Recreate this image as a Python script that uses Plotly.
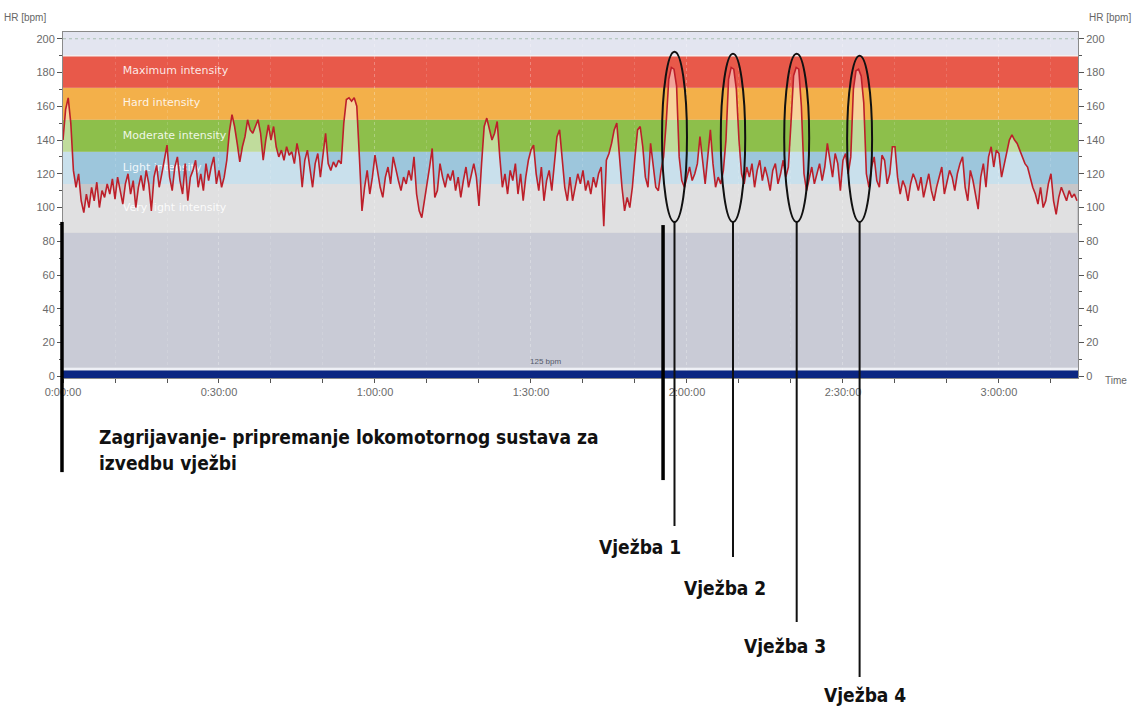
import plotly.graph_objects as go

# ---------------- data ----------------
SAMPLE_MIN = 0.5  # one reading every 30 s
hr_bpm = [
    # 0-10 min
    140, 158, 165, 150, 122, 112, 120, 104, 97, 108, 100, 112, 104, 115, 100, 110, 106, 114, 108, 117,
    # 10-20
    105, 118, 110, 102, 114, 120, 108, 116, 100, 112, 119, 110, 122, 114, 98, 118, 125, 112, 120, 128,
    # 20-30
    137, 118, 110, 124, 130, 116, 108, 126, 104, 118, 122, 128, 112, 120, 110, 126, 116, 124, 130, 114,
    # 30-40
    122, 112, 118, 128, 145, 155, 148, 138, 127, 136, 142, 152, 146, 144, 148, 152, 144, 128, 140, 149,
    # 40-50
    140, 148, 136, 130, 134, 128, 136, 131, 133, 126, 138, 130, 112, 128, 134, 124, 112, 126, 132, 118,
    # 50-60
    130, 144, 126, 122, 127, 124, 128, 126, 150, 164, 165, 163, 165, 160, 130, 98, 112, 122, 108, 118,
    # 60-70
    131, 120, 112, 106, 118, 124, 114, 130, 122, 116, 110, 118, 114, 122, 116, 130, 108, 98, 94, 104,
    # 70-80
    112, 124, 135, 106, 110, 126, 118, 112, 120, 116, 122, 110, 118, 106, 116, 124, 112, 120, 126, 118,
    # 80-90
    101, 126, 148, 153, 146, 140, 144, 151, 130, 112, 120, 108, 122, 116, 126, 108, 120, 104, 118, 128,
    # 90-100
    134, 137, 120, 110, 124, 104, 116, 122, 110, 128, 142, 146, 130, 112, 104, 118, 104, 112, 120, 114,
    # 100-110
    122, 110, 116, 108, 118, 112, 120, 124, 89, 128, 132, 138, 146, 150, 130, 112, 98, 106, 100, 112,
    # 110-120
    130, 146, 148, 136, 118, 112, 138, 124, 112, 110, 122, 130, 150, 176, 183, 182, 172, 130, 116, 112,
    # 120-130
    118, 124, 116, 120, 126, 142, 128, 114, 130, 146, 126, 112, 118, 114, 122, 140, 176, 183, 182, 170,
    # 130-140
    140, 120, 114, 124, 118, 126, 112, 122, 128, 116, 124, 118, 110, 122, 126, 114, 120, 128, 118, 124,
    # 140-150
    150, 178, 183, 182, 160, 120, 110, 118, 124, 114, 120, 126, 116, 124, 138, 128, 118, 132, 126, 110,
    # 150-160
    128, 132, 120, 130, 170, 181, 182, 178, 162, 120, 112, 124, 130, 116, 112, 131, 128, 114, 120, 136,
    # 160-170
    136, 118, 108, 116, 112, 104, 114, 120, 116, 110, 118, 106, 114, 120, 110, 104, 112, 118, 124, 108,
    # 170-180
    116, 122, 118, 110, 120, 126, 130, 112, 104, 122, 116, 108, 99, 118, 126, 112, 130, 136, 124, 134,
    # 180-190
    132, 118, 126, 134, 140, 143, 140, 138, 134, 130, 126, 124, 118, 112, 108, 102, 112, 100, 104, 114,
    # 190-195
    120, 104, 96, 106, 112, 108, 104, 110, 106, 108, 104,
]
time_min = [i * SAMPLE_MIN for i in range(len(hr_bpm))]

zone_names = ["Very light intensity", "Light intensity", "Moderate intensity",
              "Hard intensity", "Maximum intensity"]
zone_low = [85, 114, 133, 152, 171]
zone_high = [114, 133, 152, 171, 190]
zone_colors = ["#c6c6c8", "#9dc6dc", "#8dbf4b", "#f3b04a", "#e8594a"]

tick_minutes = [0, 30, 60, 90, 120, 150, 180]
tick_labels = ["0:00:00", "0:30:00", "1:00:00", "1:30:00", "2:00:00", "2:30:00", "3:00:00"]
hr_ticks = [0, 20, 40, 60, 80, 100, 120, 140, 160, 180, 200]

avg_label = "125 bpm"
avg_label_pos = (92.7, 8.6)

# exercise peaks marked by ellipses: (start min, end min)
exercise_names = ["Vježba 1", "Vježba 2", "Vježba 3", "Vježba 4"]
exercise_start = [115.2, 126.5, 138.7, 150.8]
exercise_end = [120.0, 131.2, 143.5, 155.6]
ellipse_low = 91.4
ellipse_high = [192.3, 191.1, 191.1, 189.9]

warmup_end_min = 115.4
warmup_text = ["Zagrijavanje- pripremanje lokomotornog sustava za", "izvedbu vježbi"]

X_RANGE = [0, 195.2]
Y_RANGE = [-1, 204]


def xp(t):
    return (t - X_RANGE[0]) / (X_RANGE[1] - X_RANGE[0])


def yp(v):
    return (v - Y_RANGE[0]) / (Y_RANGE[1] - Y_RANGE[0])


# ---------------- figure ----------------
fig = go.Figure()

# zone labels (drawn first so the HR curve covers them)
fig.add_trace(go.Scatter(
    x=[11.5] * len(zone_names),
    y=[(lo + hi) / 2 for lo, hi in zip(zone_low, zone_high)],
    mode="text", text=zone_names, textposition="middle right",
    textfont=dict(family="DejaVu Sans", size=11, color="rgba(255,255,255,0.88)"),
    hoverinfo="skip", showlegend=False,
))

# baseline for the area under the HR curve
fig.add_trace(go.Scatter(
    x=time_min, y=[zone_low[0]] * len(time_min), mode="lines",
    line=dict(width=0, color="rgba(0,0,0,0)"), hoverinfo="skip", showlegend=False,
))

fig.add_trace(go.Scatter(
    x=time_min, y=hr_bpm, mode="lines", fill="tonexty",
    fillcolor="rgba(255,255,255,0.45)",
    line=dict(color="#bd1f2a", width=1.6), showlegend=False, name="HR",
))

# invisible trace for right axis
fig.add_trace(go.Scatter(x=[X_RANGE[0]], y=[0], yaxis="y2", mode="markers",
                         marker=dict(opacity=0), hoverinfo="skip", showlegend=False))

shapes = []
# background areas
shapes.append(dict(type="rect", xref="x", yref="y", x0=X_RANGE[0], x1=X_RANGE[1],
                   y0=zone_high[-1], y1=Y_RANGE[1], fillcolor="#e3e5f0", line_width=0, layer="below"))
shapes.append(dict(type="rect", xref="x", yref="y", x0=X_RANGE[0], x1=X_RANGE[1],
                   y0=5, y1=zone_low[0], fillcolor="#c9cbd6", line_width=0, layer="below"))
shapes.append(dict(type="rect", xref="x", yref="y", x0=X_RANGE[0], x1=X_RANGE[1],
                   y0=3.5, y1=5, fillcolor="#eef0f6", line_width=0, layer="below"))
shapes.append(dict(type="rect", xref="x", yref="y", x0=X_RANGE[0], x1=X_RANGE[1],
                   y0=Y_RANGE[0], y1=3.5, fillcolor="#0b2682", line_width=0, layer="between"))
for lo, hi, col in zip(zone_low, zone_high, zone_colors):
    shapes.append(dict(type="rect", xref="x", yref="y", x0=X_RANGE[0], x1=X_RANGE[1],
                       y0=lo, y1=hi, fillcolor=col, line_width=0, layer="below"))
# dotted 200 line
shapes.append(dict(type="line", xref="x", yref="y", x0=X_RANGE[0], x1=X_RANGE[1],
                   y0=200, y1=200, line=dict(color="#a9bfb2", width=1, dash="dot"), layer="between"))
# thin line at top of maximum zone
shapes.append(dict(type="line", xref="x", yref="y", x0=X_RANGE[0], x1=X_RANGE[1],
                   y0=zone_high[-1], y1=zone_high[-1], line=dict(color="#f4efef", width=1.5), layer="between"))

# ellipses around exercise peaks
for s, e, top in zip(exercise_start, exercise_end, ellipse_high):
    shapes.append(dict(type="circle", xref="x", yref="y", x0=s, x1=e, y0=ellipse_low, y1=top,
                       line=dict(color="#111111", width=2), layer="above"))

# connector lines to the exercise labels
line_end_paper = [-0.428, -0.517, -0.705, -0.864]
for s, e, yend in zip(exercise_start, exercise_end, line_end_paper):
    xc = xp((s + e) / 2)
    shapes.append(dict(type="line", xref="paper", yref="paper", x0=xc, x1=xc,
                       y0=yp(ellipse_low), y1=yend, line=dict(color="#111111", width=2)))

# warm-up bracket lines
shapes.append(dict(type="line", xref="paper", yref="paper", x0=xp(0) - 0.001, x1=xp(0) - 0.001,
                   y0=0.451, y1=-0.272, line=dict(color="#000000", width=3.5)))
shapes.append(dict(type="line", xref="paper", yref="paper", x0=xp(warmup_end_min), x1=xp(warmup_end_min),
                   y0=0.442, y1=-0.295, line=dict(color="#000000", width=3.5)))

annotations = []
bold_font = dict(family="DejaVu Sans Condensed, DejaVu Sans", size=19, color="#111111", weight="bold")
annotations.append(dict(xref="paper", yref="paper", x=0.0335, y=-0.1705, xanchor="left", yanchor="middle",
                        text=warmup_text[0], showarrow=False, font=bold_font))
annotations.append(dict(xref="paper", yref="paper", x=0.0335, y=-0.2457, xanchor="left", yanchor="middle",
                        text=warmup_text[1], showarrow=False, font=bold_font))
label_pos = [(0.568, -0.488), (0.6527, -0.607), (0.7118, -0.775), (0.7897, -0.916)]
for name, (lx, ly) in zip(exercise_names, label_pos):
    annotations.append(dict(xref="paper", yref="paper", x=lx, y=ly, xanchor="center", yanchor="middle",
                            text=name, showarrow=False, font=bold_font))

axis_font = dict(family="Liberation Sans", size=10, color="#666666")
annotations.append(dict(xref="paper", yref="paper", x=-0.0374, y=1.0405, text="HR [bpm]",
                        showarrow=False, font=axis_font, xanchor="center", yanchor="middle"))
annotations.append(dict(xref="paper", yref="paper", x=1.0315, y=1.0405, text="HR [bpm]",
                        showarrow=False, font=axis_font, xanchor="center", yanchor="middle"))
annotations.append(dict(xref="paper", yref="paper", x=1.0374, y=-0.0058, text="Time",
                        showarrow=False, font=axis_font, xanchor="center", yanchor="middle"))
annotations.append(dict(xref="x", yref="y", x=avg_label_pos[0], y=avg_label_pos[1], text=avg_label,
                        showarrow=False, font=dict(family="Liberation Sans", size=8, color="#555a6a")))

tick_font = dict(family="Liberation Sans", size=11, color="#6a6a6a")

fig.update_layout(
    width=1137, height=706,
    margin=dict(l=63, r=59, t=32, b=328),
    paper_bgcolor="white", plot_bgcolor="#d9d9db",
    showlegend=False,
    shapes=shapes, annotations=annotations,
    xaxis=dict(range=X_RANGE, tickvals=tick_minutes, ticktext=tick_labels,
               ticks="outside", ticklen=4, tickcolor="#555555", tickfont=tick_font,
               showgrid=True, gridcolor="rgba(255,255,255,0.16)", griddash="dot",
               minor=dict(dtick=10, tick0=0, ticks="outside", ticklen=4, tickcolor="#555555",
                          showgrid=True, gridcolor="rgba(255,255,255,0.14)", griddash="dot"),
               showline=True, linecolor="#8a8a8a", mirror=True, zeroline=False, fixedrange=True),
    yaxis=dict(range=Y_RANGE, tickvals=hr_ticks, ticks="outside", ticklen=5, tickcolor="#555555",
               tickfont=tick_font, showgrid=False, zeroline=False,
               minor=dict(dtick=10, tick0=0, ticks="outside", ticklen=3, tickcolor="#555555"),
               showline=True, linecolor="#8a8a8a", mirror=True),
    yaxis2=dict(range=Y_RANGE, tickvals=hr_ticks, ticks="outside", ticklen=5, tickcolor="#555555",
                tickfont=tick_font, showgrid=False, zeroline=False, overlaying="y", side="right",
                minor=dict(dtick=10, tick0=0, ticks="outside", ticklen=3, tickcolor="#555555"),
                showline=True, linecolor="#8a8a8a"),
)

fig.write_html("out.html", config={"displayModeBar": False},
               post_script="document.body.style.margin='0';")
